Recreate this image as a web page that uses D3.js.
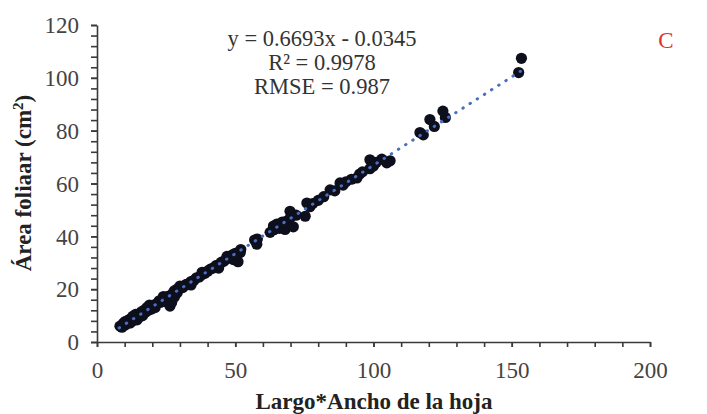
<!DOCTYPE html>
<html>
<head>
<meta charset="utf-8">
<script src="https://cdn.jsdelivr.net/npm/d3@7"></script>
<style>
  body { margin: 0; background: #fff; }
  text { font-family: "Liberation Serif", "Times New Roman", serif; }
</style>
</head>
<body>
<script>
// DATA
var leafX = [8.3, 9, 9.5, 10, 10.5, 11, 11.5, 12, 12, 12.5, 13, 13.5, 14, 14, 14.5, 15, 15.5, 16, 16.5, 17,
    17.5, 18, 18.5, 19, 19.5, 20, 21, 22, 22.5, 23, 24, 24.5, 25, 25.5, 26, 26.4, 27, 27.5, 28, 28.8,
    29, 30, 31, 32, 32.4, 33, 34, 35, 36, 37, 38, 39, 40, 41, 42, 43, 44, 45, 46, 47,
    48, 49, 49.3, 50, 51, 51.8, 52, 57, 57.8, 58, 62.6, 63.8, 64, 65, 66, 67, 68, 68.6, 69, 69.8,
    70, 71, 72, 75.3, 75.9, 77, 78, 80, 82, 84.3, 86, 87.9, 89, 90, 92, 94, 95, 98.7, 98.7, 100,
    101, 104.8, 106, 116.8, 118, 120.4, 122, 125.1, 126, 152.5, 153.5,
    10, 13, 16, 19, 21, 24, 28, 30, 34, 38, 44, 47, 50, 96, 103];
var leafY = [6.0, 5.6, 7.0, 6.3, 7.8, 7.0, 8.4, 8.6, 7.2, 9.0, 8.0, 9.6, 9.0, 10.5, 8.4, 10.2, 10.5, 11.4, 10.0, 12.0,
    11.2, 13.0, 12.0, 13.0, 12.4, 13.6, 14.2, 14.8, 15.6, 15.0, 16.4, 15.4, 17.0, 16.2, 17.4, 13.6, 15.0, 18.6, 19.4, 19.9,
    18.6, 20.4, 20.6, 21.6, 21.8, 22.0, 22.9, 23.3, 24.3, 24.6, 25.5, 26.0, 26.8, 27.6, 28.0, 28.9, 29.3, 30.2, 30.6, 31.6,
    32.0, 33.0, 31.2, 33.6, 30.4, 33.9, 35.0, 38.6, 37.0, 39.0, 41.5, 43.9, 42.5, 44.6, 43.0, 45.4, 42.6, 45.8, 44.0, 49.5,
    47.2, 43.6, 48.0, 47.6, 52.6, 51.2, 52.4, 53.6, 55.0, 57.6, 57.2, 60.2, 59.4, 60.6, 61.6, 62.1, 63.6, 65.6, 69.0, 66.6,
    68.0, 67.8, 68.6, 79.3, 78.4, 84.2, 81.6, 87.4, 85.0, 102.0, 107.4,
    7.6, 9.8, 9.8, 14.0, 13.0, 17.2, 17.0, 21.2, 21.6, 26.4, 28.0, 32.4, 31.8, 64.4, 69.2];

var slope = 0.6693, intercept = -0.0345;
var fitRange = [8, 154];
var xTicks = [0, 50, 100, 150, 200];
var yTicks = [0, 20, 40, 60, 80, 100, 120];
var statLines = ["y = 0.6693x - 0.0345", "R\u00b2 = 0.9978", "RMSE = 0.987"];

// D3
var svg = d3.select("body")
    .append("svg")
    .attr("width", 707)
    .attr("height", 414);

const margin = {top: 25, right: 57, bottom: 72, left: 97};
const width = 707 - margin.left - margin.right;
const height = 414 - margin.top - margin.bottom;

const xScale = d3.scaleLinear().domain([0, 200]).range([0, width]);
const yScale = d3.scaleLinear().domain([0, 120]).range([height, 0]);

const g = svg.append("g")
    .attr("transform", "translate(" + margin.left + "," + margin.top + ")");

// minor ticks
g.append("g")
    .attr("transform", "translate(0," + height + ")")
    .call(d3.axisBottom(xScale).tickValues(d3.range(0, 201, 10)).tickSize(5).tickFormat(""))
    .call(a => a.select(".domain").remove());
g.append("g")
    .call(d3.axisLeft(yScale).tickValues(d3.range(0, 121, 4)).tickSize(6).tickFormat(""))
    .call(a => a.select(".domain").remove());

// main axes
var xAxis = g.append("g")
    .attr("transform", "translate(0," + height + ")")
    .call(d3.axisBottom(xScale).tickValues(xTicks).tickSize(5).tickSizeOuter(0).tickPadding(14));
var yAxis = g.append("g")
    .call(d3.axisLeft(yScale).tickValues(yTicks).tickSize(6).tickSizeOuter(0).tickPadding(12));

[xAxis, yAxis].forEach(function(a) {
    a.selectAll("text").style("font-family", '"Liberation Serif", serif').style("font-size", "23px").attr("fill", "#444");
});
yAxis.selectAll("text").attr("dy", "0.34em");
xAxis.selectAll("text").attr("dy", "0.72em");
g.selectAll(".domain, .tick line").attr("stroke", "#3a3a3a").attr("stroke-width", 1.6);

// points
g.selectAll("circle.pt").data(leafX)
    .enter()
    .append("circle")
    .attr("class", "pt")
    .attr("cx", d => xScale(d))
    .attr("cy", (d, i) => yScale(leafY[i]))
    .attr("r", 5.6)
    .attr("fill", "#0e0f1c");

// fitted line
g.append("line")
    .attr("x1", xScale(fitRange[0]))
    .attr("y1", yScale(slope * fitRange[0] + intercept))
    .attr("x2", xScale(fitRange[1]))
    .attr("y2", yScale(slope * fitRange[1] + intercept))
    .attr("stroke", "#4a6fc0")
    .attr("stroke-width", 3)
    .attr("stroke-linecap", "round")
    .attr("stroke-dasharray", "0.5,8");

// stats text
svg.append("g").selectAll("text").data(statLines)
    .enter()
    .append("text")
    .attr("x", 322)
    .attr("y", (d, i) => 46 + i * 24)
    .attr("text-anchor", "middle")
    .attr("font-size", 22.5)
    .attr("fill", "#333")
    .text(d => d);

svg.append("text")
    .attr("x", 666)
    .attr("y", 48)
    .attr("text-anchor", "middle")
    .attr("font-size", 23)
    .attr("fill", "#e0332e")
    .text("C");

// axis titles
svg.append("text")
    .attr("x", 374)
    .attr("y", 409)
    .attr("text-anchor", "middle")
    .attr("font-size", 23)
    .attr("font-weight", "bold")
    .attr("fill", "#222")
    .text("Largo*Ancho de la hoja");

var yt = svg.append("text")
    .attr("transform", "translate(31,183) rotate(-90)")
    .attr("text-anchor", "middle")
    .attr("font-size", 23)
    .attr("font-weight", "bold")
    .attr("fill", "#222");
yt.append("tspan").text("Área foliaar (cm");
yt.append("tspan").attr("font-size", 15).attr("dy", -8).text("2");
yt.append("tspan").attr("dy", 8).text(")");
</script>
</body>
</html>
